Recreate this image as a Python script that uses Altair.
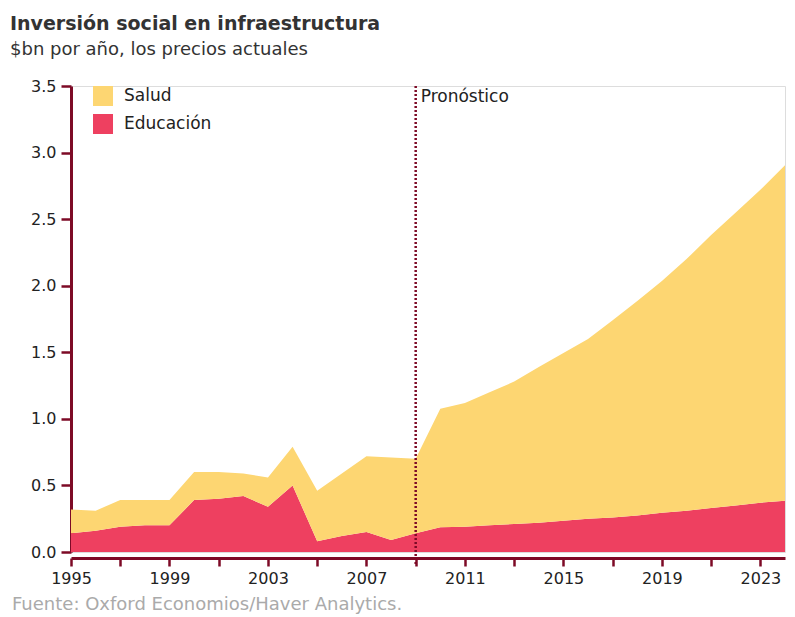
import altair as alt
import pandas as pd

years = list(range(1995, 2025))
educacion = [0.14, 0.16, 0.19, 0.20, 0.20, 0.39, 0.40, 0.42, 0.34, 0.50,
             0.08, 0.12, 0.15, 0.09, 0.14, 0.185, 0.19, 0.20, 0.21, 0.22,
             0.235, 0.25, 0.26, 0.275, 0.295, 0.31, 0.33, 0.35, 0.37, 0.385]
salud = [0.18, 0.15, 0.20, 0.19, 0.19, 0.21, 0.20, 0.17, 0.22, 0.29,
         0.38, 0.47, 0.57, 0.62, 0.56, 0.89, 0.93, 1.00, 1.07, 1.17,
         1.26, 1.35, 1.48, 1.61, 1.74, 1.89, 2.05, 2.20, 2.35, 2.52]
series = ["Salud", "Educación"]
colors = ["#FDD672", "#EE4060"]
y_ticks = [0.0, 0.5, 1.0, 1.5, 2.0, 2.5, 3.0, 3.5]
forecast_year = 2009

title = "Inversión social en infraestructura"
subtitle = "$bn por año, los precios actuales"
source = "Fuente: Oxford Economios/Haver Analytics."
forecast_label = "Pronóstico"

rows = []
for i, yr in enumerate(years):
    rows.append({"year": yr, "serie": "Educación", "valor": educacion[i], "orden": 0})
    rows.append({"year": yr, "serie": "Salud", "valor": salud[i], "orden": 1})
df = pd.DataFrame(rows)

MAROON = "#7D0A26"
TXT = "#222222"
FONT = "DejaVu Sans"
W, H = 714, 466

x_scale = alt.Scale(domain=[1995, 2024], nice=False, zero=False)
y_scale = alt.Scale(domain=[0, 3.5], nice=False)

areas = alt.Chart(df).mark_area(interpolate="linear", opacity=1).encode(
    x=alt.X("year:Q", scale=x_scale, title=None,
            axis=alt.Axis(values=years, format="d",
                          labelExpr="(datum.value - 1995) % 4 == 0 ? datum.label : ''",
                          domainColor=MAROON, domainWidth=3, tickColor=MAROON,
                          tickWidth=2.5, tickSize=8, labelFontSize=16, labelColor=TXT,
                          labelPadding=4, offset=6, grid=False, labelFont=FONT,
                          labelFlush=False)),
    y=alt.Y("valor:Q", stack="zero", scale=y_scale, title=None,
            axis=alt.Axis(values=y_ticks, format=".1f", domainColor=MAROON,
                          domainWidth=3, tickColor=MAROON, tickWidth=2.5, tickSize=10,
                          labelFontSize=16, labelColor=TXT, labelPadding=5, grid=False,
                          labelFont=FONT, labelFlush=False)),
    color=alt.Color("serie:N", scale=alt.Scale(domain=series, range=colors), title=None,
                    legend=alt.Legend(orient="none", legendX=22, legendY=0,
                                      symbolType="square", symbolSize=400,
                                      symbolStrokeWidth=0, symbolOpacity=1,
                                      labelFontSize=17, labelColor=TXT,
                                      labelFont=FONT, rowPadding=8,
                                      labelOffset=11)),
    order=alt.Order("orden:Q"),
)

rule = alt.Chart(pd.DataFrame({"year": [forecast_year]})).mark_rule(
    color=MAROON, strokeWidth=2.5, strokeDash=[2, 2]
).encode(x=alt.X("year:Q", scale=x_scale), y=alt.value(0), y2=alt.value(H + 12))

flabel = alt.Chart(pd.DataFrame({"year": [forecast_year], "t": [forecast_label]})).mark_text(
    align="left", baseline="middle", dx=5, fontSize=17, color=TXT, font=FONT
).encode(x=alt.X("year:Q", scale=x_scale), y=alt.value(11), text="t:N")

t1 = alt.Chart(pd.DataFrame({"t": [title]})).mark_text(
    align="left", baseline="alphabetic", fontSize=19, fontWeight="bold",
    color="#333333", font=FONT).encode(x=alt.value(-61), y=alt.value(-56), text="t:N")
t2 = alt.Chart(pd.DataFrame({"t": [subtitle]})).mark_text(
    align="left", baseline="alphabetic", fontSize=18, color="#333333", font=FONT).encode(
    x=alt.value(-61), y=alt.value(-31), text="t:N")
t3 = alt.Chart(pd.DataFrame({"t": [source]})).mark_text(
    align="left", baseline="alphabetic", fontSize=18, color="#AAAAAA", font=FONT).encode(
    x=alt.value(-59), y=alt.value(H + 58), text="t:N")

chart = alt.layer(areas, rule, flabel, t1, t2, t3).properties(
    width=W, height=H,
    autosize=alt.AutoSizeParams(type="none"),
    padding={"left": 63, "top": 78, "right": 2, "bottom": 62},
).configure_view(strokeWidth=0).configure(background="white")

chart.save("out.html", embed_options={"renderer": "svg", "actions": False})
